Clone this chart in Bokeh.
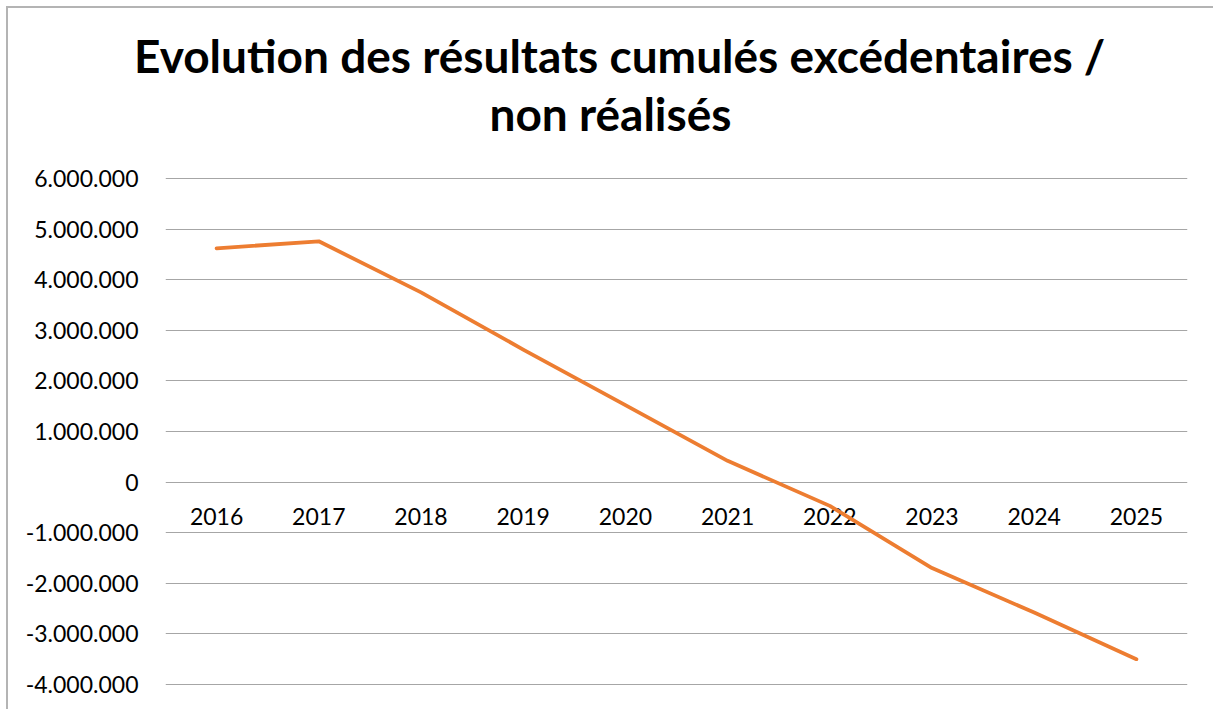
from bokeh.plotting import figure
from bokeh.models import FactorRange, Range1d, FixedTicker, Div
from bokeh.layouts import column
from bokeh.embed import file_html
from bokeh.resources import INLINE

# ---- data ----
years = ["2016", "2017", "2018", "2019", "2020", "2021", "2022", "2023", "2024", "2025"]
resultats = [4620000, 4760000, 3750000, 2620000, 1520000, 420000, -470000, -1700000, -2580000, -3500000]
y_ticks = [-4000000, -3000000, -2000000, -1000000, 0, 1000000, 2000000, 3000000, 4000000, 5000000, 6000000]
y_tick_labels = ["-4.000.000", "-3.000.000", "-2.000.000", "-1.000.000", "0", "1.000.000",
                 "2.000.000", "3.000.000", "4.000.000", "5.000.000", "6.000.000"]
title_line1 = "Evolution des résultats cumulés excédentaires /"
title_line2 = "non réalisés"

FONT = "Lato"

title_div = Div(
    text=(f'<div style="font-family:{FONT};font-weight:bold;font-size:46px;line-height:58px;'
          f'color:#000000;text-align:center;white-space:nowrap;padding-top:19px;'
          f'padding-left:126px;width:1079px;">'
          f'{title_line1}<br>{title_line2}</div>'),
    width=1205, height=150, margin=0,
)

p = figure(
    width=1205, height=551,
    x_range=FactorRange(*years, range_padding=0),
    y_range=Range1d(-4100000, 6100000),
    output_backend="svg", toolbar_location=None,
    min_border_left=157, min_border_right=26, min_border_top=15, min_border_bottom=20,
)
p.outline_line_color = None
p.title = None

p.line(x=years, y=resultats, line_color="#ED7D31", line_width=3.8,
       line_join="round", line_cap="round")

# y axis
p.yaxis.ticker = FixedTicker(ticks=y_ticks)
p.yaxis.major_label_overrides = {t: l for t, l in zip(y_ticks, y_tick_labels)}
p.yaxis.axis_line_color = None
p.yaxis.major_tick_line_color = None
p.yaxis.minor_tick_line_color = None
p.yaxis.major_label_standoff = 21
p.yaxis.major_label_text_font = FONT
p.yaxis.major_label_text_font_size = "23px"
p.yaxis.major_label_text_color = "#000000"

# x axis crossing at 0
p.xaxis.fixed_location = 0
p.xaxis.level = "underlay"
p.xaxis.axis_line_color = None
p.xaxis.major_tick_line_color = None
p.xaxis.minor_tick_line_color = None
p.xaxis.major_label_standoff = 20
p.xaxis.major_label_text_font = FONT
p.xaxis.major_label_text_font_size = "23px"
p.xaxis.major_label_text_color = "#000000"

p.xgrid.grid_line_color = None
p.ygrid.grid_line_color = "#a6a6a6"
p.ygrid.grid_line_width = 1.2

root = column(title_div, p, spacing=0)
root.styles = {"margin-left": "6px", "margin-top": "6px",
               "border-left": "2px solid #b4b4b4", "border-top": "2px solid #b4b4b4"}

open("out.html", "w").write(file_html(root, INLINE))
